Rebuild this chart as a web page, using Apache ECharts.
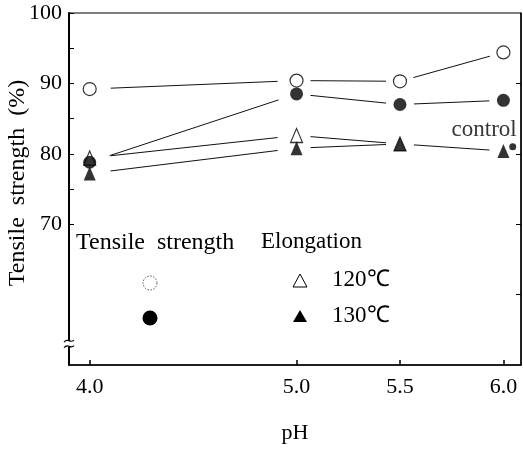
<!DOCTYPE html>
<html>
<head>
<meta charset="utf-8">
<script src="https://cdn.jsdelivr.net/npm/echarts@6/dist/echarts.min.js"></script>
<style>
  html, body { margin: 0; padding: 0; background: #fff; }
  #chart { width: 523px; height: 449px; }
</style>
</head>
<body>
<div id="chart"></div>
<script>
// pH values on the x axis
const phTicks = [4.0, 5.0, 5.5, 6.0];
const phAll = [4.0, 5.0, 5.5, 6.0];
const phElong120 = [4.0, 5.0, 5.5];

// Tensile strength retention (%)
const tensile120 = [89.2, 90.4, 90.3, 94.4];
const tensile130 = [78.8, 88.5, 87.0, 87.6];
// Elongation retention (%)
const elong120 = [79.4, 82.6, 81.4];
const elong130 = [77.2, 80.8, 81.4, 80.4];
// Untreated control
const controlPoint = [6.045, 81.0];

const yLabelValues = [70, 80, 90, 100];
const yTickValues = [70, 75, 80, 85, 90, 95, 100];
const yRightTicks = [60, 70, 80, 90];

const FONT = '"Liberation Serif", "Times New Roman", serif';

function pairs(xs, ys) { return ys.map((v, i) => [xs[i], v]); }

// consecutive point pairs -> [x0, y0, x1, y1] segments
function segments(xs, ys) {
  const out = [];
  for (let i = 1; i < ys.length; i++) out.push([xs[i - 1], ys[i - 1], xs[i], ys[i]]);
  return out;
}

// Connecting lines that stop short of the markers at both ends
function gapLineSeries(xs, ys) {
  return {
    type: 'custom', z: 1, silent: true, animation: false,
    data: segments(xs, ys),
    encode: { x: [0, 2], y: [1, 3] },
    renderItem: function (params, api) {
      const x0 = api.value(0), x1 = api.value(2);
      const p0 = api.coord([x0, api.value(1)]);
      const p1 = api.coord([x1, api.value(3)]);
      const dx = p1[0] - p0[0], dy = p1[1] - p0[1];
      const len = Math.sqrt(dx * dx + dy * dy);
      const ux = dx / len, uy = dy / len;
      const g0 = x0 === 4.0 ? 21 : 14;
      const g1 = x1 === 5.0 ? 19 : 14;
      return {
        type: 'line',
        shape: { x1: p0[0] + ux * g0, y1: p0[1] + uy * g0, x2: p1[0] - ux * g1, y2: p1[1] - uy * g1 },
        style: { stroke: '#111', lineWidth: 1 }
      };
    }
  };
}
function markSeries(xs, ys, symbol, filled, size) {
  return {
    type: 'scatter', data: pairs(xs, ys), symbol: symbol, symbolSize: size,
    itemStyle: filled ? { color: '#000' } : { color: '#fff', borderColor: '#000', borderWidth: 1.2 },
    z: 4, silent: true, animation: false
  };
}

const chart = echarts.init(document.getElementById('chart'), null, { renderer: 'canvas' });

const option = {
  animation: false,
  backgroundColor: '#fff',
  grid: { left: 69, right: 2, top: 13, bottom: 80, show: true, borderColor: '#000', borderWidth: 1 },
  xAxis: {
    type: 'value', min: 3.9, max: 6.085,
    name: 'pH', nameLocation: 'middle', nameGap: 57,
    nameTextStyle: { fontFamily: FONT, fontSize: 22, color: '#000' },
    axisLine: { show: true, lineStyle: { color: '#000', width: 1.5 } },
    axisTick: { show: true, inside: true, length: 5, customValues: phTicks, lineStyle: { color: '#000', width: 1.5 } },
    axisLabel: { customValues: phTicks, formatter: v => v.toFixed(1), margin: 11, fontFamily: FONT, fontSize: 22, color: '#000' },
    splitLine: { show: false }
  },
  yAxis: [{
    type: 'value', min: 50, max: 100,
    axisLine: { show: true, lineStyle: { color: '#000', width: 2 } },
    axisTick: { show: true, inside: true, length: 5, customValues: yTickValues, lineStyle: { color: '#000', width: 1 } },
    axisLabel: { customValues: yLabelValues, margin: 7, fontFamily: FONT, fontSize: 22, color: '#000' },
    splitLine: { show: false }
  }, {
    type: 'value', min: 50, max: 100, position: 'right',
    axisLine: { show: true, lineStyle: { color: '#000', width: 1.5 } },
    axisTick: { show: true, inside: true, length: 5, customValues: yRightTicks, lineStyle: { color: '#000', width: 1 } },
    axisLabel: { show: false },
    splitLine: { show: false }
  }],
  series: [
    gapLineSeries(phAll, tensile120),
    gapLineSeries(phAll, tensile130),
    gapLineSeries(phElong120, elong120),
    gapLineSeries(phAll, elong130),
    markSeries(phElong120, elong120, 'triangle', false, [12, 14]),
    markSeries(phAll, tensile120, 'circle', false, 13),
    markSeries(phAll, tensile130, 'circle', true, 13),
    markSeries(phAll, elong130, 'triangle', true, [12, 14]),
    {
      type: 'scatter', data: [controlPoint], symbol: 'circle', symbolSize: 7,
      itemStyle: { color: '#000' }, z: 4, silent: true, animation: false,
      label: {
        show: true, formatter: 'control', position: 'top', align: 'right', distance: 2,
        offset: [4, 0], fontFamily: FONT, fontSize: 23, color: '#000'
      }
    }
  ]
};
chart.setOption(option);

// Axis title, legend and the axis break drawn as graphics
const breakTop = chart.convertToPixel({ xAxisIndex: 0, yAxisIndex: 0 }, [3.9, 53.4]);
const breakBot = chart.convertToPixel({ xAxisIndex: 0, yAxisIndex: 0 }, [3.9, 52.6]);
const bx = breakTop[0];

const legendText = (x, y, text, size) => ({
  type: 'text', x: x, y: y,
  style: { text: text, fontFamily: FONT, fontSize: size || 23, fill: '#000', textVerticalAlign: 'middle' }
});

chart.setOption({
  graphic: [
    {
      type: 'text', x: 18, y: 183, rotation: Math.PI / 2,
      style: { text: 'Tensile  strength  (%)', fontFamily: FONT, fontSize: 24, fill: '#000',
               textAlign: 'center', textVerticalAlign: 'middle' }
    },
    legendText(76, 243, 'Tensile  strength', 24),
    legendText(261, 242, 'Elongation'),
    legendText(332, 280, '120℃'),
    legendText(332, 316, '130℃'),
    { type: 'circle', shape: { cx: 150, cy: 283, r: 7 },
      style: { fill: '#fff', stroke: '#555', lineWidth: 1, lineDash: [1.5, 1.5] } },
    { type: 'circle', shape: { cx: 150, cy: 318, r: 7.5 }, style: { fill: '#000' } },
    { type: 'polygon', shape: { points: [[300, 274], [293, 287], [307, 287]] },
      style: { fill: '#fff', stroke: '#000', lineWidth: 1 } },
    { type: 'polygon', shape: { points: [[300, 310], [293, 322], [307, 322]] },
      style: { fill: '#000' } },
    // break in the y axis
    { type: 'rect', shape: { x: bx - 3, y: breakTop[1], width: 6, height: breakBot[1] - breakTop[1] },
      style: { fill: '#fff' }, z: 100 },
    { type: 'bezierCurve', shape: { x1: bx - 5, y1: breakTop[1] + 1, x2: bx + 5, y2: breakTop[1] - 1,
      cpx1: bx - 1, cpy1: breakTop[1] - 4, cpx2: bx + 1, cpy2: breakTop[1] + 3 },
      style: { stroke: '#000', lineWidth: 1.2, fill: null }, z: 101 },
    { type: 'bezierCurve', shape: { x1: bx - 5, y1: breakBot[1] + 1, x2: bx + 5, y2: breakBot[1] - 1,
      cpx1: bx - 1, cpy1: breakBot[1] - 4, cpx2: bx + 1, cpy2: breakBot[1] + 3 },
      style: { stroke: '#000', lineWidth: 1.2, fill: null }, z: 101 }
  ]
});
</script>
</body>
</html>
